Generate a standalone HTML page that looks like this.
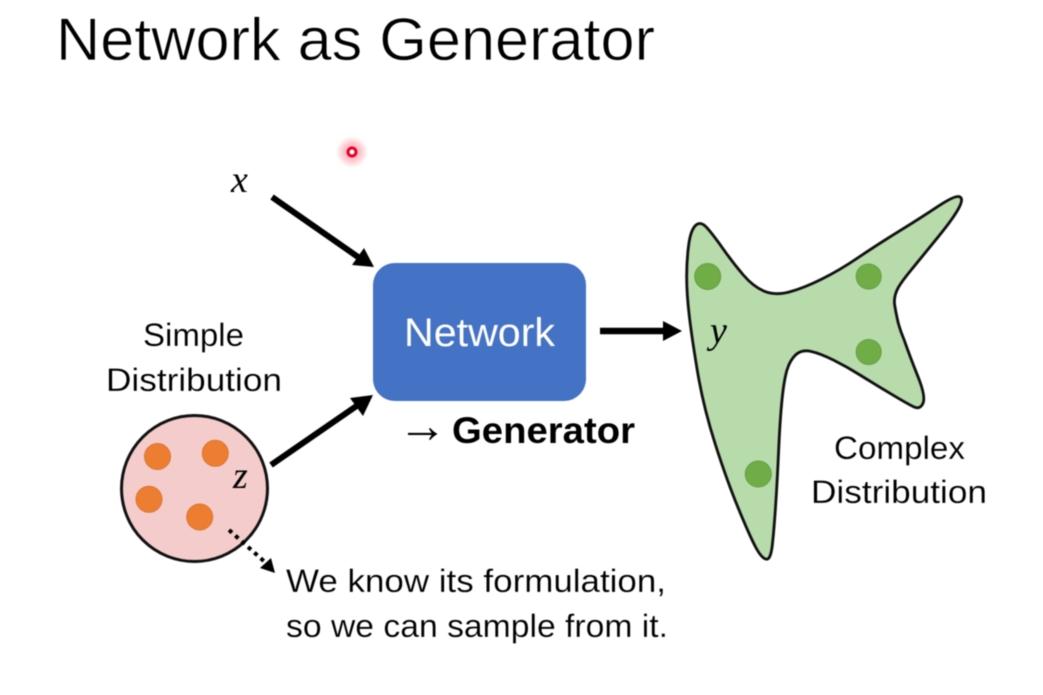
<!DOCTYPE html>
<html>
<head>
<meta charset="utf-8">
<style>
html,body{margin:0;padding:0;background:#fff;width:1043px;height:695px;overflow:hidden}
svg{display:block;filter:blur(.5px)}
text{font-family:"Liberation Sans",sans-serif;fill:#000}
.m{font-family:"Liberation Serif",serif;font-style:italic;font-size:38px}
.l{font-size:32.5px;stroke:#fff;stroke-width:.15px}
</style>
</head>
<body>
<svg width="1043" height="695" viewBox="0 0 1043 695" xmlns="http://www.w3.org/2000/svg">
<defs>
<radialGradient id="g"><stop offset="0" stop-color="#ff4060" stop-opacity=".6"/><stop offset=".6" stop-color="#ff7080" stop-opacity=".35"/><stop offset="1" stop-color="#ff8090" stop-opacity="0"/></radialGradient>
</defs>
<text x="56" y="60" font-size="60" textLength="599" lengthAdjust="spacingAndGlyphs" style="stroke:#fff;stroke-width:.7px">Network as Generator</text>

<circle cx="352" cy="152" r="16" fill="url(#g)"/>
<circle cx="352" cy="152" r="4" fill="#fff" stroke="#e3002b" stroke-width="3"/>

<text class="m" x="231" y="192">x</text>

<!-- x arrow -->
<line x1="272" y1="197" x2="358" y2="257" stroke="#000" stroke-width="6"/>
<polygon points="374,267 352,265 364,248" fill="#000"/>

<!-- network -->
<rect x="373" y="263" width="213" height="138" rx="22" ry="22" fill="#4472c4"/>
<text x="404" y="346" font-size="40" style="fill:#fff" textLength="151" lengthAdjust="spacingAndGlyphs">Network</text>

<!-- z arrow -->
<line x1="271" y1="465" x2="358" y2="405" stroke="#000" stroke-width="6"/>
<polygon points="373,395 363,416 350,398" fill="#000"/>

<!-- right arrow -->
<line x1="600" y1="331" x2="665" y2="331" stroke="#000" stroke-width="6.500"/>
<polygon points="682,331 663,321 663,341" fill="#000"/>

<text x="398" y="442" font-size="49">→</text>
<text x="452" y="443" font-size="37" font-weight="700" textLength="183" lengthAdjust="spacingAndGlyphs">Generator</text>

<text class="l" x="143" y="346" textLength="101" lengthAdjust="spacingAndGlyphs">Simple</text>
<text class="l" x="106" y="391" textLength="176" lengthAdjust="spacingAndGlyphs">Distribution</text>

<!-- circle -->
<circle cx="194.500" cy="488.500" r="73" fill="#f4cccc" stroke="#111" stroke-width="3"/>
<g fill="#ed7d31" stroke="#d8772f" stroke-width="1">
<circle cx="157.500" cy="456.500" r="13"/>
<circle cx="215.300" cy="453.300" r="13"/>
<circle cx="149" cy="499.300" r="13"/>
<circle cx="199.700" cy="517" r="13"/>
</g>
<text class="m" x="233" y="488">z</text>

<!-- dotted arrow -->
<line x1="229" y1="530" x2="266" y2="563" stroke="#000" stroke-width="4" stroke-dasharray="4 4.500"/>
<polygon points="275,573 260,568 271,558" fill="#000"/>

<text class="l" x="286" y="592" textLength="380" lengthAdjust="spacingAndGlyphs">We know its formulation,</text>
<text class="l" x="286" y="637" textLength="382" lengthAdjust="spacingAndGlyphs">so we can sample from it.</text>

<!-- blob -->
<g transform="translate(660,180) scale(.33333)">
<path d="M107 136 Q122 122 141 143.500 Q160 165 190 207.500 Q220 250 250 285 Q280 320 312.500 333.500 Q345 347 387.500 336 Q430 325 485 297.500 Q540 270 595 232.500 Q650 195 715 155 Q780 115 832.500 80 Q885 45 898.500 50 Q912 55 896 85 Q880 115 835 170 Q790 225 760 262 C725 305 698 335 704 375 Q708 400 715 430 Q722 455 732.500 480 Q750 530 774 590 Q798 650 789 670 Q780 690 760 680 Q740 670 690 640 Q640 610 600 585 Q560 560 520 540 Q480 520 452.500 514 Q425 508 407.500 524 Q390 540 381 570 Q372 600 366 660 Q360 720 356 810 Q352 900 347 975 Q342 1050 337 1095 Q332 1140 318.500 1137.500 Q305 1135 287.500 1102.500 Q270 1070 235 985 Q200 900 165 790 Q130 680 112.500 575 Q95 470 87.500 405 Q80 340 80 290 Q80 240 86 195 Q92 150 107 136 Z" fill="#b8dbab" stroke="#111" stroke-width="8.500"/>
</g>
<g fill="#70ad47" stroke="#62a03f" stroke-width="1">
<circle cx="707.700" cy="276.500" r="13"/>
<circle cx="868.700" cy="276.500" r="12.500"/>
<circle cx="868.700" cy="352" r="12.500"/>
<circle cx="758.300" cy="474" r="13"/>
</g>
<text class="m" x="710" y="343">y</text>

<text class="l" x="834" y="459" textLength="131" lengthAdjust="spacingAndGlyphs">Complex</text>
<text class="l" x="811" y="503" textLength="176" lengthAdjust="spacingAndGlyphs">Distribution</text>
</svg>
</body>
</html>
